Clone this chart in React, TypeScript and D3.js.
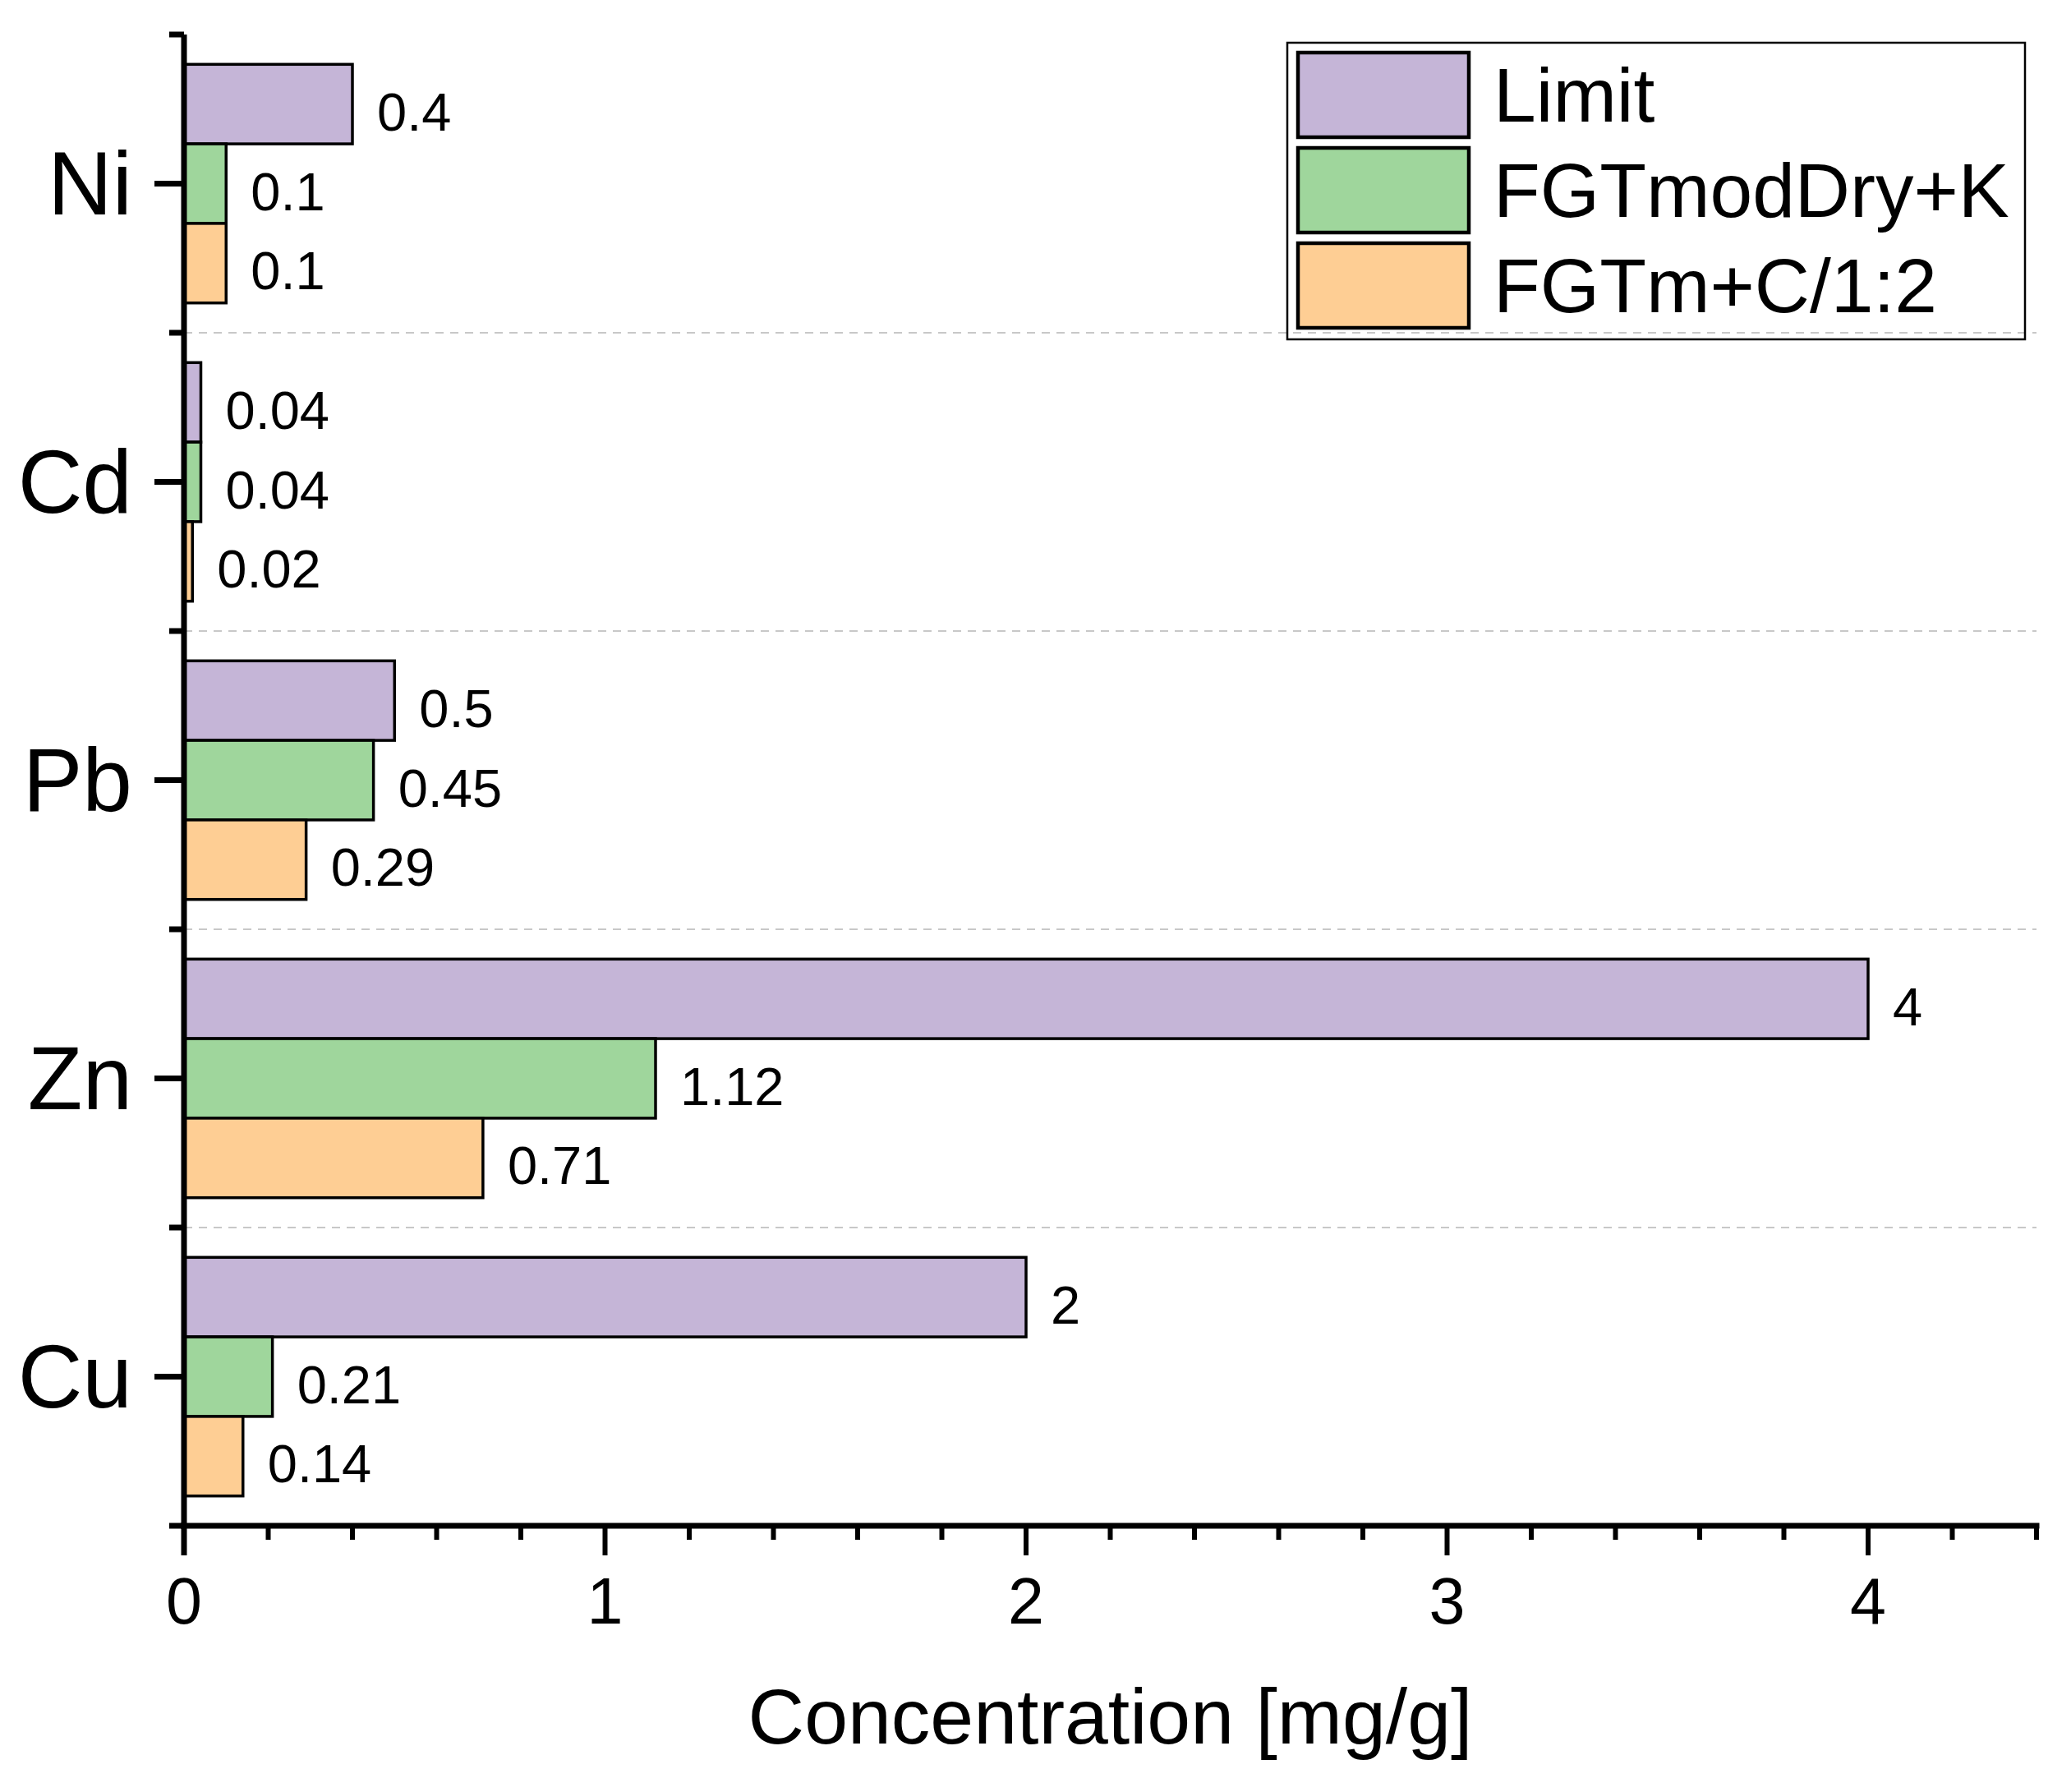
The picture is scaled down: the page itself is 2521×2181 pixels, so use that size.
import React from "react";
import { scaleLinear, scaleBand } from "d3";

const categories = ["Ni", "Cd", "Pb", "Zn", "Cu"];
const seriesNames = ["Limit", "FGTmodDry+K", "FGTm+C/1:2"];
const limitValues = [0.4, 0.04, 0.5, 4, 2];
const modDryValues = [0.1, 0.04, 0.45, 1.12, 0.21];
const mcValues = [0.1, 0.02, 0.29, 0.71, 0.14];
const seriesColors = ["#C5B5D7", "#9FD69C", "#FECE94"];
const xAxisTitle = "Concentration [mg/g]";

const W = 2521;
const H = 2181;
const margin = { left: 224, right: 42, top: 42, bottom: 324 };
const FONT = "'Liberation Sans', Arial, sans-serif";

export default function App() {
  const seriesValues = [limitValues, modDryValues, mcValues];
  const x = scaleLinear()
    .domain([0, 4.4])
    .range([margin.left, W - margin.right]);
  const y = scaleBand<string>()
    .domain(categories)
    .range([margin.top, H - margin.bottom]);
  const inner = scaleBand<string>()
    .domain(seriesNames)
    .range([0, y.bandwidth()])
    .paddingOuter(0.375);

  const axisY = H - margin.bottom;
  const x0 = x(0);
  const majorTicks = x.ticks(5);
  const minorTicks = x.ticks(22).filter((t) => !majorTicks.includes(t));
  const boundaries = categories.map((c) => y(c) as number);

  return (
    <svg
      width={W}
      height={H}
      style={{ position: "absolute", left: 0, top: 0, background: "#fff" }}
      fontFamily={FONT}
    >
      <rect width={W} height={H} fill="#fff" />
      {/* dashed separators between groups */}
      {boundaries.slice(1).map((b, i) => (
        <line
          key={"g" + i}
          x1={x0}
          x2={x(4.4)}
          y1={b}
          y2={b}
          stroke="#c8c8c8"
          strokeWidth={2}
          strokeDasharray="10,8"
        />
      ))}

      {/* bars */}
      {categories.map((c, ci) =>
        seriesNames.map((s, si) => {
          const v = seriesValues[si][ci];
          const by = (y(c) as number) + (inner(s) as number);
          const bh = inner.bandwidth();
          return (
            <g key={c + s}>
              <rect
                x={x0}
                y={by}
                width={x(v) - x0}
                height={bh}
                fill={seriesColors[si]}
                stroke="#000"
                strokeWidth={3.5}
              />
              <text
                x={x(v) + 30}
                y={by + bh / 2 + 32}
                fontSize={65}
                fill="#000"
              >
                {String(v)}
              </text>
            </g>
          );
        })
      )}

      {/* y axis */}
      <line x1={x0} x2={x0} y1={margin.top} y2={axisY + 36} stroke="#000" strokeWidth={7} />
      {[...boundaries, axisY].map((b, i) => (
        <line key={"ym" + i} x1={x0 - 18} x2={x0} y1={b} y2={b} stroke="#000" strokeWidth={7} />
      ))}
      {categories.map((c) => {
        const cy = (y(c) as number) + y.bandwidth() / 2;
        return (
          <g key={"yl" + c}>
            <line x1={x0 - 36} x2={x0} y1={cy} y2={cy} stroke="#000" strokeWidth={7} />
            <text x={161} y={cy + 37} fontSize={109} textAnchor="end" fill="#000">
              {c}
            </text>
          </g>
        );
      })}

      {/* x axis */}
      <line x1={x0 - 4} x2={x(4.4) + 3.5} y1={axisY} y2={axisY} stroke="#000" strokeWidth={7} />
      {minorTicks.map((t) => (
        <line key={"xm" + t} x1={x(t)} x2={x(t)} y1={axisY} y2={axisY + 17} stroke="#000" strokeWidth={6} />
      ))}
      {majorTicks.map((t) => (
        <g key={"xM" + t}>
          <line x1={x(t)} x2={x(t)} y1={axisY} y2={axisY + 36} stroke="#000" strokeWidth={6} />
          <text x={x(t)} y={1976} fontSize={79} textAnchor="middle" fill="#000">
            {String(t)}
          </text>
        </g>
      ))}
      <text x={(x0 + x(4.4)) / 2} y={2122} fontSize={95} textAnchor="middle" fill="#000">
        {xAxisTitle}
      </text>

      {/* legend */}
      <rect x={1567} y={52} width={898} height={361} fill="none" stroke="#000" strokeWidth={2.5} />
      {seriesNames.map((s, i) => {
        const ry = 64 + i * 116;
        return (
          <g key={"lg" + s}>
            <rect x={1580} y={ry} width={208} height={103} fill={seriesColors[i]} stroke="#000" strokeWidth={4.5} />
            <text x={1818} y={ry + 51 + 33} fontSize={93} fill="#000">
              {s}
            </text>
          </g>
        );
      })}
    </svg>
  );
}
